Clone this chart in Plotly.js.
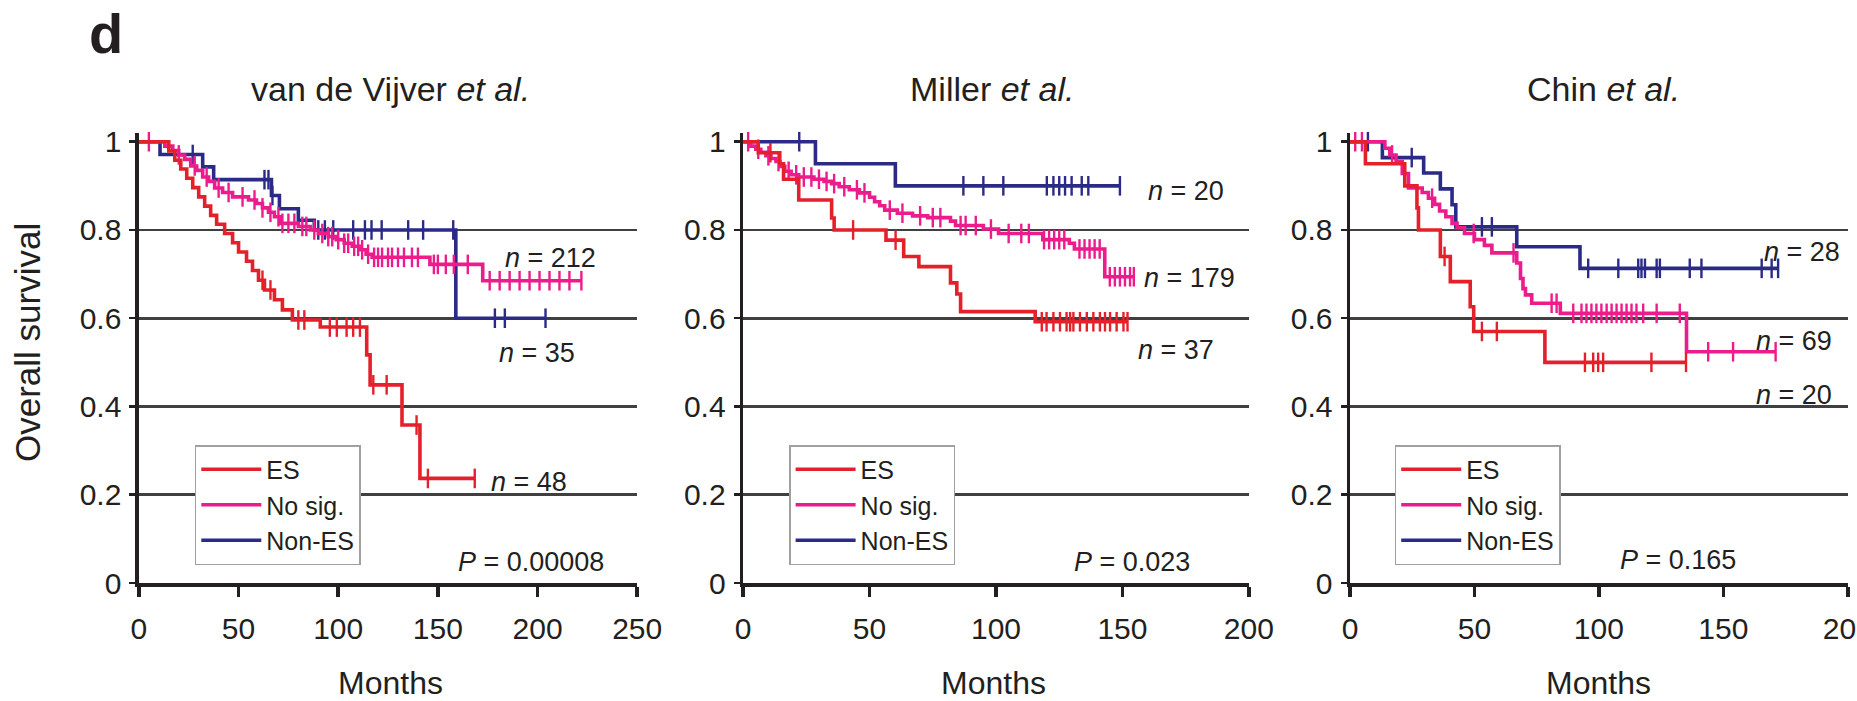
<!DOCTYPE html>
<html>
<head>
<meta charset="utf-8">
<script src="https://cdn.plot.ly/plotly-3.0.1.min.js"></script>
<style>html,body{margin:0;padding:0;background:#fff;}#chart{width:1857px;height:701px;}</style>
</head>
<body>
<div id="chart"></div>
<script>
// ---------------- DATA ----------------
const seriesNames = ["ES", "No sig.", "Non-ES"];
const xTicks1 = [0, 50, 100, 150, 200, 250];
const xTicks23 = [0, 50, 100, 150, 200];
const yTicks = [0, 0.2, 0.4, 0.6, 0.8, 1];
const yTickText = ["0", "0.2", "0.4", "0.6", "0.8", "1"];
const panelTitles = ["van de Vijver <i>et al.</i>", "Miller <i>et al.</i>", "Chin <i>et al.</i>"];
const nLabels1 = ["<i>n</i> = 48", "<i>n</i> = 212", "<i>n</i> = 35"];
const nLabels2 = ["<i>n</i> = 37", "<i>n</i> = 179", "<i>n</i> = 20"];
const nLabels3 = ["<i>n</i> = 20", "<i>n</i> = 69", "<i>n</i> = 28"];
const pLabels = ["<i>P</i> = 0.00008", "<i>P</i> = 0.023", "<i>P</i> = 0.165"];

// van de Vijver et al.
const vdvES_t = [0, 15, 18, 21, 24, 27, 30, 33, 36, 39, 43, 47, 50, 54, 57, 60, 63, 68, 72, 77, 91, 114.3, 116, 132, 141];
const vdvES_s = [1, 0.979, 0.958, 0.938, 0.917, 0.896, 0.875, 0.854, 0.833, 0.813, 0.792, 0.771, 0.75, 0.729, 0.708, 0.686, 0.664, 0.642, 0.619, 0.596, 0.58, 0.517, 0.449, 0.358, 0.237];
const vdvES_end = 168.5;
const vdvES_cens = [62, 66, 80, 83, 95.8, 99.3, 104.2, 107.5, 110.9, 117.6, 124.3, 139.3, 145, 168.5];

const vdvNS_t = [0, 13, 17, 20, 23, 26, 29, 32, 35, 38, 42, 47, 55, 59, 62, 65, 68, 71, 80, 86, 90, 95, 99, 103, 107, 111, 114, 117, 146, 172.5];
const vdvNS_s = [1, 0.99, 0.98, 0.97, 0.96, 0.945, 0.935, 0.92, 0.91, 0.895, 0.885, 0.875, 0.868, 0.86, 0.85, 0.84, 0.83, 0.815, 0.808, 0.8, 0.792, 0.785, 0.778, 0.77, 0.763, 0.755, 0.745, 0.738, 0.722, 0.685];
const vdvNS_end = 222;
const vdvNS_cens = [5, 20, 28, 34, 40, 45, 52, 58, 62, 66, 70, 72, 75, 78, 82, 84, 88, 92, 95, 97, 100, 103, 105, 108, 110, 112, 115, 118, 120, 122, 125, 127, 130, 133, 137, 140, 148, 150, 154, 158, 165, 176, 181, 186, 191, 196, 201, 206, 211, 216, 222];

const vdvNE_t = [0, 10.6, 32, 37.5, 66.5, 70.5, 80, 88, 159];
const vdvNE_s = [1, 0.971, 0.943, 0.914, 0.878, 0.848, 0.822, 0.8, 0.6];
const vdvNE_end = 204;
const vdvNE_cens = [27, 63, 65, 67, 90, 93.3, 97.5, 107.5, 113.4, 116.7, 121.8, 135.1, 142.6, 157.7, 178.6, 183.6, 204];

// Miller et al.
const milES_t = [0, 6, 14.5, 16, 22, 35, 36, 56.5, 63.5, 69.5, 82, 84.5, 86, 115.5];
const milES_s = [1, 0.975, 0.95, 0.915, 0.868, 0.827, 0.8, 0.777, 0.74, 0.717, 0.68, 0.655, 0.615, 0.592];
const milES_end = 152;
const milES_cens = [10.8, 43.5, 60.3, 118.1, 120, 122.7, 125.3, 127.9, 129.3, 130.6, 133.2, 135.9, 138.5, 141.1, 143.1, 145.1, 147.7, 150.4, 152];

const milNS_t = [0, 3, 5, 7, 9, 11, 13, 14.5, 16.5, 19, 22, 28, 32, 35, 38, 42, 46, 50, 52, 54, 56, 61, 67, 73, 82, 84, 95, 101, 118.5, 129, 131, 143];
const milNS_s = [1, 0.99, 0.983, 0.976, 0.968, 0.962, 0.955, 0.944, 0.933, 0.925, 0.92, 0.915, 0.91, 0.905, 0.898, 0.891, 0.884, 0.874, 0.864, 0.855, 0.845, 0.838, 0.832, 0.828, 0.82, 0.81, 0.802, 0.792, 0.778, 0.77, 0.757, 0.694];
const milNS_end = 154.5;
const milNS_cens = [2, 6, 10, 14, 18, 21, 24, 27, 30, 33, 36, 40, 45, 48, 58, 63, 70, 75, 78, 86, 88, 92, 98, 105, 110, 113, 119, 121, 123, 125, 127, 133, 135, 137, 139, 141, 145, 147, 149, 151, 153, 154.5];

const milNE_t = [0, 28.6, 60.2];
const milNE_s = [1, 0.95, 0.9];
const milNE_end = 149;
const milNE_cens = [22.2, 87.1, 95, 102.9, 120.1, 122.7, 125, 127.3, 129.9, 133.9, 136.5, 149];

// Chin et al.
const chES_t = [0, 6.2, 22, 26.9, 27.5, 36.3, 40.3, 48.3, 49.7, 78.3];
const chES_s = [1, 0.95, 0.9, 0.85, 0.8, 0.74, 0.683, 0.626, 0.57, 0.5];
const chES_end = 135;
const chES_cens = [38, 53, 59, 94.4, 97.7, 99.7, 101.7, 121.1, 135];

const chNS_t = [0, 14, 16, 18.5, 21, 23.5, 29, 31.5, 34, 36, 38.5, 41, 43, 46, 50, 54, 57, 67, 68.5, 69.5, 70.5, 73, 84.5, 135.2];
const chNS_s = [1, 0.985, 0.97, 0.955, 0.928, 0.895, 0.885, 0.872, 0.858, 0.843, 0.83, 0.815, 0.805, 0.792, 0.778, 0.765, 0.748, 0.725, 0.69, 0.667, 0.653, 0.634, 0.611, 0.524];
const chNS_end = 171;
const chNS_cens = [2.1, 4.8, 16.9, 33, 49.7, 65.7, 81, 83, 89.7, 93, 95, 97, 99, 101, 103.1, 105.1, 107.1, 109.1, 111.1, 113.1, 115.1, 117.8, 123.2, 132.5, 143.9, 153.9, 171];

const chNE_t = [0, 13, 29.6, 36.3, 41, 42.5, 67, 92.4];
const chNE_s = [1, 0.964, 0.929, 0.893, 0.857, 0.807, 0.762, 0.713];
const chNE_end = 172;
const chNE_cens = [7.2, 24.8, 53, 57, 95.7, 107.8, 115.8, 117.1, 118.5, 123.2, 124.5, 136.5, 141.2, 165.4, 169.4, 172];

// ---------------- STYLE ----------------
const W = 1857, H = 701;
const FONT = "'Liberation Sans', Arial, Helvetica, sans-serif";
const INK = "#231f20";
const COLORS = {ES: "#e4202a", NS: "#ec1c8c", NE: "#2b2a86"};
const px = x => x / W;
const py = y => 1 - y / H;

function stepAt(t, ts, ss) {
  let v = ss[0];
  for (let i = 0; i < ts.length; i++) if (ts[i] <= t) v = ss[i];
  return v;
}

const traces = [];
function addSeries(ts, ss, end, cens, color, name, rank, ax, legendId) {
  const xs = ts.concat([end]);
  const ys = ss.concat([ss[ss.length - 1]]);
  traces.push({
    type: "scatter", mode: "lines", x: xs, y: ys, name: name,
    line: {shape: "hv", width: 3.6, color: color},
    xaxis: "x" + ax.x, yaxis: "y" + ax.y, legend: legendId, legendrank: rank,
    hoverinfo: "skip"
  });
  traces.push({
    type: "scatter", mode: "markers", x: cens, y: cens.map(t => stepAt(t, ts, ss)),
    marker: {symbol: "line-ns-open", size: 14, color: color, line: {width: 2.4, color: color}},
    xaxis: "x" + ax.x, yaxis: "y" + ax.y, showlegend: false, hoverinfo: "skip", cliponaxis: false
  });
}

const panels = [
  {ax: {x: "", y: ""}, leg: "legend", d: [[vdvNE_t, vdvNE_s, vdvNE_end, vdvNE_cens, "NE"], [vdvNS_t, vdvNS_s, vdvNS_end, vdvNS_cens, "NS"], [vdvES_t, vdvES_s, vdvES_end, vdvES_cens, "ES"]]},
  {ax: {x: "2", y: "2"}, leg: "legend2", d: [[milNE_t, milNE_s, milNE_end, milNE_cens, "NE"], [milNS_t, milNS_s, milNS_end, milNS_cens, "NS"], [milES_t, milES_s, milES_end, milES_cens, "ES"]]},
  {ax: {x: "3", y: "3"}, leg: "legend3", d: [[chNE_t, chNE_s, chNE_end, chNE_cens, "NE"], [chNS_t, chNS_s, chNS_end, chNS_cens, "NS"], [chES_t, chES_s, chES_end, chES_cens, "ES"]]}
];
const keyName = {ES: seriesNames[0], NS: seriesNames[1], NE: seriesNames[2]};
const keyRank = {ES: 1, NS: 2, NE: 3};
panels.forEach(p => p.d.forEach(s => addSeries(s[0], s[1], s[2], s[3], COLORS[s[4]], keyName[s[4]], keyRank[s[4]], p.ax, p.leg)));

// axes
const yDom = [py(583), py(583 - 1.02 * 441.3)];
function xAxis(domain, range, ticks, anchor) {
  return {
    domain: domain, range: range, tickvals: ticks, ticks: "outside", ticklen: 10, tickwidth: 3.5,
    tickcolor: INK, showline: true, linewidth: 4, linecolor: INK, showgrid: false, zeroline: false,
    tickfont: {family: FONT, size: 30, color: INK}, ticklabelstandoff: 6, ticklabeloverflow: "allow",
    anchor: anchor, fixedrange: true
  };
}
function yAxis(anchor) {
  return {
    domain: yDom, range: [0, 1.02], tickvals: yTicks, ticktext: yTickText, ticks: "outside", ticklen: 6,
    tickwidth: 2.5, tickcolor: INK, showline: true, linewidth: 3.5, linecolor: INK, showgrid: false,
    zeroline: false, tickfont: {family: FONT, size: 30, color: INK}, ticklabelstandoff: 2,
    minor: {tickvals: [0.2, 0.4, 0.6, 0.8], showgrid: true, gridcolor: "#404040", gridwidth: 2.6, ticks: ""},
    anchor: anchor, fixedrange: true
  };
}

function legend(x) {
  return {
    x: x, y: py(445), xanchor: "left", yanchor: "top", bgcolor: "#ffffff",
    bordercolor: "#a0a0a0", borderwidth: 1.5, font: {family: FONT, size: 25, color: INK},
    traceorder: "normal", itemwidth: 60, tracegroupgap: 0
  };
}

const ann = [];
function txt(text, x, y, size, xanchor, extra) {
  ann.push(Object.assign({
    text: text, x: px(x), y: py(y), xref: "paper", yref: "paper", showarrow: false,
    xanchor: xanchor || "center", yanchor: "middle", font: {family: FONT, size: size, color: INK}
  }, extra || {}));
}
txt("<b>d</b>", 87, 34, 56, "left");
txt(panelTitles[0], 390, 89, 34);
txt(panelTitles[1], 992, 89, 34);
txt(panelTitles[2], 1603, 89, 34);
txt("Overall survival", 28, 343, 35, "center", {textangle: -90});
txt("Months", 390, 683, 32);
txt("Months", 993, 683, 32);
txt("Months", 1598, 683, 32);
// panel 1 labels
txt(nLabels1[1], 503, 258, 27, "left");
txt(nLabels1[2], 497, 353, 27, "left");
txt(nLabels1[0], 489, 482, 27, "left");
txt(pLabels[0], 456, 562, 27, "left");
// panel 2 labels
txt(nLabels2[2], 1146, 191, 27, "left");
txt(nLabels2[1], 1142, 278, 27, "left");
txt(nLabels2[0], 1136, 350, 27, "left");
txt(pLabels[1], 1072, 562, 27, "left");
// panel 3 labels
txt(nLabels3[2], 1762, 252, 27, "left");
txt(nLabels3[1], 1754, 341, 27, "left");
txt(nLabels3[0], 1754, 395, 27, "left");
txt(pLabels[2], 1618, 560, 27, "left");

const layout = {
  width: W, height: H, autosize: false,
  margin: {l: 0, r: 0, t: 0, b: 0, pad: 0},
  paper_bgcolor: "#ffffff", plot_bgcolor: "rgba(0,0,0,0)",
  font: {family: FONT, color: INK},
  xaxis: xAxis([px(138.9), px(637.2)], [0, 250], xTicks1, "y"),
  xaxis2: xAxis([px(743.1), px(1248.9)], [0, 200], xTicks23, "y2"),
  xaxis3: xAxis([px(1350), px(1847.8)], [0, 200], xTicks23, "y3"),
  yaxis: yAxis("x"), yaxis2: yAxis("x2"), yaxis3: yAxis("x3"),
  legend: legend(px(194.8)), legend2: legend(px(789.1)), legend3: legend(px(1394.7)),
  annotations: ann, showlegend: true
};

Plotly.newPlot("chart", traces, layout, {displayModeBar: false, staticPlot: true});
</script>
</body>
</html>
